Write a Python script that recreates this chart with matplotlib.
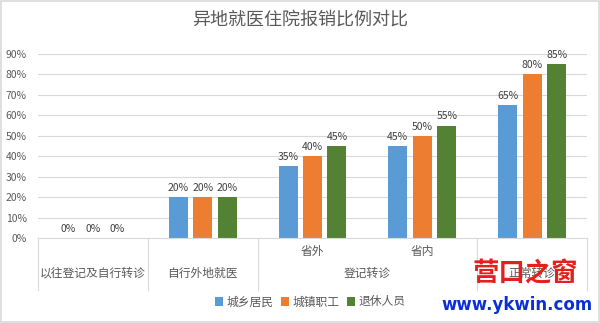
import matplotlib.pyplot as plt
from matplotlib.patches import Rectangle
from matplotlib.lines import Line2D
import matplotlib.transforms as mtransforms

plt.rcParams['font.family'] = ['Noto Sans CJK SC', 'DejaVu Sans']

title = "异地就医住院报销比例对比"
series = ["城乡居民", "城镇职工", "退休人员"]
colors = ["#5B9BD5", "#ED7D31", "#548235"]
# five category slots along the x axis
residents = [0, 20, 35, 45, 65]
workers = [0, 20, 40, 50, 80]
retirees = [0, 20, 45, 55, 85]
sub_labels = ["", "", "省外", "省内", ""]
top_labels = ["以往登记及自行转诊", "自行外地就医", "登记转诊", "正常转诊"]
top_spans = [(0, 0), (1, 1), (2, 3), (4, 4)]
yticks = [0, 10, 20, 30, 40, 50, 60, 70, 80, 90]

fig = plt.figure(figsize=(6, 3.23), dpi=100)
ax = fig.add_axes([38 / 600, 1 - 238 / 323, 549 / 600, 184 / 323])

x = range(len(residents))
width = 0.173
offset = 0.223
for k, (vals, c) in enumerate(zip([residents, workers, retirees], colors)):
    pos = [i + (k - 1) * offset for i in x]
    bars = ax.bar(pos, vals, width, color=c, label=series[k], zorder=2)
    for b, v in zip(bars, vals):
        ax.annotate(f"{v}%", (b.get_x() + b.get_width() / 2, v),
                    xytext=(0, 3), textcoords="offset points",
                    ha="center", va="bottom", fontsize=7.5, color="#404040")

ax.set_xlim(-0.5, 4.5)
ax.set_ylim(0, 90)
ax.set_yticks(yticks)
ax.set_yticklabels([f"{t}%" for t in yticks], fontsize=7.5, color="#595959")
ax.tick_params(axis="y", length=0, pad=8)
ax.set_xticks([])
ax.grid(axis="y", color="#D9D9D9", linewidth=0.8, zorder=0)
for s in ["top", "right", "left"]:
    ax.spines[s].set_visible(False)
ax.spines["bottom"].set_color("#D9D9D9")

# multi-level category axis
trans = mtransforms.blended_transform_factory(ax.transData, ax.transAxes)
for i, lab in enumerate(sub_labels):
    if lab:
        ax.text(i, -0.076, lab, transform=trans, ha="center", va="center",
                fontsize=8.5, color="#595959")
for lab, (a, b) in zip(top_labels, top_spans):
    ax.text((a + b) / 2, -0.19, lab, transform=trans, ha="center", va="center",
            fontsize=8.5, color="#595959")
for xs in [-0.5, 0.5, 1.5, 3.5, 4.5]:
    ax.add_line(Line2D([xs, xs], [0, -0.283], transform=trans, color="#D9D9D9",
                       linewidth=0.8, clip_on=False))

fig.text(0.5, 1 - 20 / 323, title, ha="center", va="center", fontsize=13, color="#595959")

fig.legend(loc="center", bbox_to_anchor=(0.517, 1 - 302 / 323), ncol=3, frameon=False,
           fontsize=8.5, handlelength=0.7, handleheight=0.7, handletextpad=0.3,
           columnspacing=0.6, labelcolor="#595959")

# site watermark
fig.text(525 / 600, 1 - 274 / 323, "营口之窗", ha="center", va="center", fontsize=19,
         color="#E3201B", fontweight="bold", zorder=10)
fig.text(517 / 600, 1 - 305 / 323, "www.ykwin.com", ha="center", va="center", fontsize=12,
         color="#0A2FD8", fontweight="bold", family="DejaVu Sans", zorder=10)

fig.patches.append(Rectangle((0.002, 0.003), 0.996, 0.994, transform=fig.transFigure,
                             fill=False, edgecolor="#D9D9D9", linewidth=1.2))

plt.savefig("out.png", dpi=100)
plt.close()
